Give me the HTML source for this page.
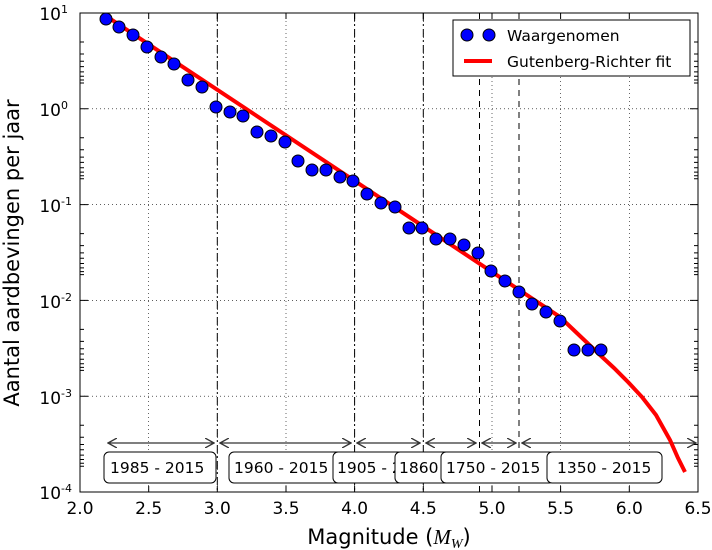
<!DOCTYPE html>
<html><head><style>body{margin:0;background:#fff}svg{display:block;font-family:"DejaVu Sans","Liberation Sans",sans-serif}</style></head><body>
<svg width="712" height="550" xmlns="http://www.w3.org/2000/svg">
<defs><marker id="ah" markerWidth="10" markerHeight="10" refX="9" refY="5" orient="auto-start-reverse" markerUnits="userSpaceOnUse"><path d="M0,0 L9,5 L0,10" fill="none" stroke="#333" stroke-width="1.3"/></marker></defs>
<g stroke="#000" stroke-width="0.6" stroke-dasharray="1,3" fill="none">
<line x1="148.7" y1="13" x2="148.7" y2="492"/><line x1="217.3" y1="13" x2="217.3" y2="492"/><line x1="286" y1="13" x2="286" y2="492"/><line x1="354.6" y1="13" x2="354.6" y2="492"/><line x1="423.3" y1="13" x2="423.3" y2="492"/><line x1="492" y1="13" x2="492" y2="492"/><line x1="560.6" y1="13" x2="560.6" y2="492"/><line x1="629.3" y1="13" x2="629.3" y2="492"/>
<line x1="80" y1="108.8" x2="698" y2="108.8"/><line x1="80" y1="204.6" x2="698" y2="204.6"/><line x1="80" y1="300.4" x2="698" y2="300.4"/><line x1="80" y1="396.2" x2="698" y2="396.2"/>
</g>
<g stroke="#000" stroke-width="1" fill="none">
<line x1="217.3" y1="13" x2="217.3" y2="492" stroke-dasharray="8,3,2,3"/>
<line x1="354.6" y1="13" x2="354.6" y2="492" stroke-dasharray="8,3,2,3"/>
<line x1="423.3" y1="13" x2="423.3" y2="492" stroke-dasharray="8,3,2,3"/>
<line x1="479.5" y1="13" x2="479.5" y2="492" stroke-dasharray="6,5"/>
<line x1="519" y1="13" x2="519" y2="492" stroke-dasharray="6,5"/>
</g>
<g stroke="#333" stroke-width="1.3" marker-start="url(#ah)" marker-end="url(#ah)">
<line x1="108" y1="443" x2="214" y2="443"/><line x1="220" y1="443" x2="351" y2="443"/><line x1="357" y1="443" x2="420" y2="443"/><line x1="426" y1="443" x2="476" y2="443"/><line x1="482" y1="443" x2="516" y2="443"/><line x1="522" y1="443" x2="696" y2="443"/>
</g>
<g font-size="15.5" fill="#000">
<g stroke="#000" stroke-width="1" fill="#fff">
<rect x="104" y="452" width="112" height="31" rx="5"/><rect x="229" y="452" width="117" height="31" rx="5"/></g>
<text x="110" y="473">1985 - 2015</text><text x="234" y="473">1960 - 2015</text>
<rect x="333" y="452" width="70" height="31" rx="5" fill="#fff" stroke="#000"/><text x="337" y="473">1905 - 2015</text>
<rect x="395" y="452" width="60" height="31" rx="5" fill="#fff" stroke="#000"/><text x="399" y="473">1860 - 2015</text>
<rect x="441" y="452" width="113" height="31" rx="5" fill="#fff" stroke="#000"/><text x="446" y="473">1750 - 2015</text>
<rect x="547" y="452" width="115" height="31" rx="5" fill="#fff" stroke="#000"/><text x="557" y="473">1350 - 2015</text>
</g>
<polyline fill="none" stroke="#f00" stroke-width="4" points="106,16 560,317 580,336 600,355 614,368 628,382 642,397 656,415 670,440 678,458 685,472"/>
<g fill="#00f" stroke="#000" stroke-width="1">
<circle cx="106" cy="19" r="6"/><circle cx="119" cy="27" r="6"/><circle cx="133" cy="35" r="6"/><circle cx="147" cy="47" r="6"/><circle cx="161" cy="57" r="6"/><circle cx="174" cy="64" r="6"/><circle cx="188" cy="80" r="6"/><circle cx="202" cy="87" r="6"/><circle cx="216" cy="107" r="6"/><circle cx="230" cy="112" r="6"/><circle cx="243" cy="116" r="6"/><circle cx="257" cy="132" r="6"/><circle cx="271" cy="136" r="6"/><circle cx="285" cy="142" r="6"/><circle cx="298" cy="161" r="6"/><circle cx="312" cy="170" r="6"/><circle cx="326" cy="170" r="6"/><circle cx="340" cy="177" r="6"/><circle cx="353" cy="181" r="6"/><circle cx="367" cy="194" r="6"/><circle cx="381" cy="203" r="6"/><circle cx="395" cy="207" r="6"/><circle cx="409" cy="228" r="6"/><circle cx="422" cy="228" r="6"/><circle cx="436" cy="239" r="6"/><circle cx="450" cy="239" r="6"/><circle cx="464" cy="245" r="6"/><circle cx="478" cy="253" r="6"/><circle cx="491" cy="271" r="6"/><circle cx="505" cy="281" r="6"/><circle cx="519" cy="292" r="6"/><circle cx="532" cy="304" r="6"/><circle cx="546" cy="312" r="6"/><circle cx="560" cy="321" r="6"/><circle cx="574" cy="350" r="6"/><circle cx="588" cy="350" r="6"/><circle cx="601" cy="350" r="6"/>
</g>
<rect x="80" y="13" width="618" height="479" fill="none" stroke="#000" stroke-width="1"/>
<g stroke="#000" stroke-width="1">
<path d="M148.7,492v-6M217.3,492v-6M286,492v-6M354.6,492v-6M423.3,492v-6M492,492v-6M560.6,492v-6M629.3,492v-6M148.7,13v6M217.3,13v6M286,13v6M354.6,13v6M423.3,13v6M492,13v6M560.6,13v6M629.3,13v6"/>
<path d="M80,108.8h8M80,204.6h8M80,300.4h8M80,396.2h8M698,108.8h-8M698,204.6h-8M698,300.4h-8M698,396.2h-8"/>
<path id="mn" d="M80,42h4M80,54h4M80,61.3h4M80,66.6h4M80,71.9h4M80,76.3h4M80,80h4M80,83h4 M698,42h-4M698,54h-4M698,61.3h-4M698,66.6h-4M698,71.9h-4M698,76.3h-4M698,80h-4M698,83h-4"/>
<use href="#mn" y="95.8"/><use href="#mn" y="191.6"/><use href="#mn" y="287.4"/><use href="#mn" y="383.2"/>
</g>
<g font-size="17" text-anchor="middle">
<text x="80" y="514">2.0</text><text x="148.7" y="514">2.5</text><text x="217.3" y="514">3.0</text><text x="286" y="514">3.5</text><text x="354.6" y="514">4.0</text><text x="423.3" y="514">4.5</text><text x="492" y="514">5.0</text><text x="560.6" y="514">5.5</text><text x="629.3" y="514">6.0</text><text x="698" y="514">6.5</text>
</g>
<g font-size="17" text-anchor="end">
<text x="68" y="20">10<tspan font-size="11" dy="-7">1</tspan></text>
<text x="68" y="116">10<tspan font-size="11" dy="-7">0</tspan></text>
<text x="72" y="212">10<tspan font-size="11" dy="-7">-1</tspan></text>
<text x="72" y="308">10<tspan font-size="11" dy="-7">-2</tspan></text>
<text x="72" y="404">10<tspan font-size="11" dy="-7">-3</tspan></text>
<text x="72" y="499">10<tspan font-size="11" dy="-7">-4</tspan></text>
</g>
<text x="389" y="544" font-size="21" text-anchor="middle">Magnitude (<tspan font-family="Liberation Serif" font-style="italic">M</tspan><tspan font-family="Liberation Serif" font-style="italic" font-size="14" dy="4">W</tspan><tspan dy="-4">)</tspan></text>
<text transform="translate(19,253) rotate(-90)" font-size="21" text-anchor="middle">Aantal aardbevingen per jaar</text>
<rect x="453" y="20" width="237" height="56" fill="#fff" stroke="#000"/>
<circle cx="467" cy="35" r="6" fill="#00f" stroke="#000"/><circle cx="489" cy="35" r="6" fill="#00f" stroke="#000"/>
<line x1="464" y1="61" x2="492" y2="61" stroke="#f00" stroke-width="4"/>
<text x="507" y="41" font-size="15.5">Waargenomen</text>
<text x="507" y="67" font-size="15.5">Gutenberg-Richter fit</text>
</svg>
</body></html>
